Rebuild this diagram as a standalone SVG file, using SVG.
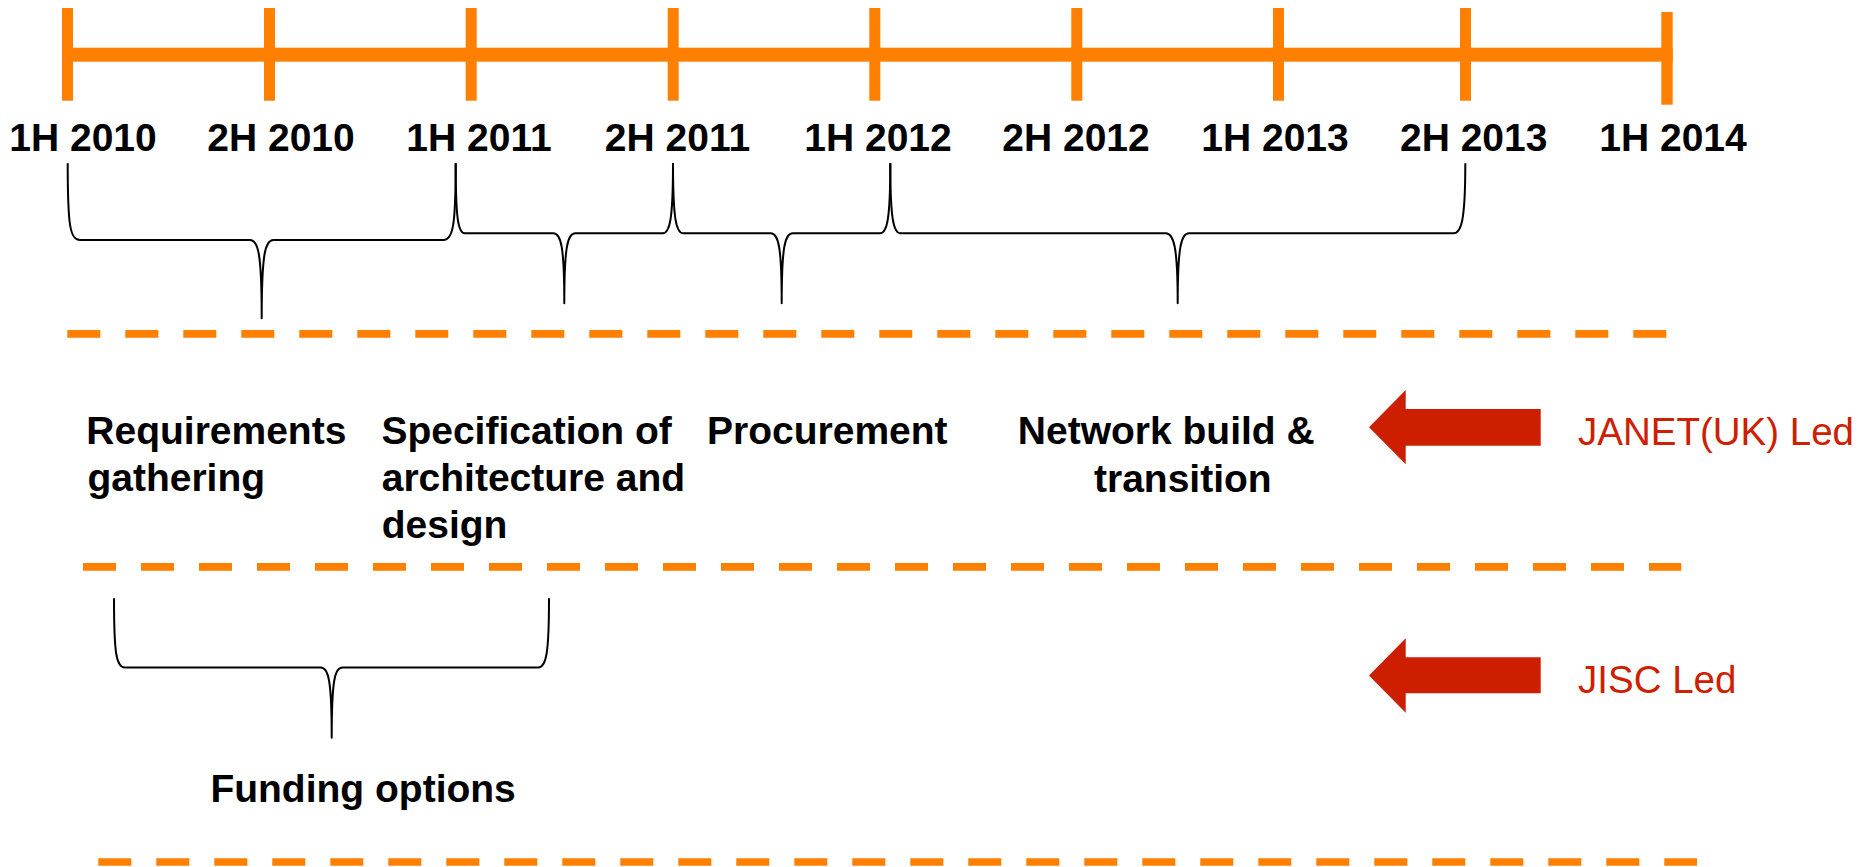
<svg xmlns="http://www.w3.org/2000/svg" width="1874" height="867" viewBox="0 0 1874 867">
<style>
  .bg { fill: #ffffff; }
  .axis { fill: #FF7F00; }
  .dash { stroke: #FF7F00; stroke-width: 7.7; stroke-dasharray: 33 25; fill: none; }
  .brace { stroke: #000000; stroke-width: 2; fill: none; stroke-linejoin: round; }
  .lbl { font-family: "Liberation Sans", Arial, sans-serif; font-weight: bold; font-size: 39px; fill: #000000; }
  .yr { text-anchor: middle; }
  .led { font-family: "Liberation Sans", Arial, sans-serif; font-size: 38.5px; fill: #CD2000; }
  .arrow { fill: #CD1F00; }
</style>
<rect class="bg" x="0" y="0" width="1874" height="867"/>

<g id="timeline">
  <rect class="axis" x="62" y="47.7" width="1610.7" height="14"/>
  <rect class="axis" x="62" y="8" width="11" height="92.7"/>
  <rect class="axis" x="264" y="8" width="11" height="92.7"/>
  <rect class="axis" x="465.7" y="8" width="11" height="92.7"/>
  <rect class="axis" x="667.7" y="8" width="11" height="92.7"/>
  <rect class="axis" x="869.3" y="8" width="11" height="92.7"/>
  <rect class="axis" x="1071.3" y="8" width="11" height="92.7"/>
  <rect class="axis" x="1273" y="8" width="11" height="92.7"/>
  <rect class="axis" x="1460" y="8" width="11" height="92.7"/>
  <rect class="axis" x="1661.3" y="12" width="11.4" height="92.7"/>
</g>

<g id="year-labels">
  <text class="lbl yr" x="83" y="150.7">1H 2010</text>
  <text class="lbl yr" x="281" y="150.7">2H 2010</text>
  <text class="lbl yr" x="479" y="150.7">1H 2011</text>
  <text class="lbl yr" x="677.5" y="150.7">2H 2011</text>
  <text class="lbl yr" x="878" y="150.7">1H 2012</text>
  <text class="lbl yr" x="1076" y="150.7">2H 2012</text>
  <text class="lbl yr" x="1275" y="150.7">1H 2013</text>
  <text class="lbl yr" x="1473.7" y="150.7">2H 2013</text>
  <text class="lbl yr" x="1673" y="150.7">1H 2014</text>
</g>

<g id="braces">
  <path id="brace-requirements" class="brace" d="M67.7 163.3 C67.7 226 70 240 80 240 L250 240 C258 240 261.7 252 261.7 318.3 C261.7 252 265.4 240 273.4 240 L443.3 240 C453 240 455.7 226 455.7 163.3"/>
  <path id="brace-specification" class="brace" d="M455.7 163.3 C455.7 218 458 233.3 465 233.3 L553.3 233.3 C561 233.3 564.3 246 564.3 303.3 C564.3 246 567.6 233.3 575.3 233.3 L662.7 233.3 C670 233.3 673 218 673 163.3"/>
  <path id="brace-procurement" class="brace" d="M673 163.3 C673 218 676 233.3 683.3 233.3 L770.7 233.3 C778.4 233.3 781.7 246 781.7 303.3 C781.7 246 785 233.3 792.7 233.3 L880 233.3 C887.3 233.3 890.3 218 890.3 163.3"/>
  <path id="brace-network" class="brace" d="M890.3 163.3 C890.3 218 893.3 233.3 900.6 233.3 L1165.7 233.3 C1173.7 233.3 1177.7 246 1177.7 303.3 C1177.7 246 1181.2 233.3 1189 233.3 L1453.3 233.3 C1461.5 233.3 1465.3 220 1465.3 163.3"/>
  <path id="brace-funding" class="brace" d="M114 598.3 C114 652 116 667.5 125 667.5 L320.7 667.5 C328.5 667.5 331.7 680 331.7 737.7 C331.7 680 334.8 667.5 342.3 667.5 L538 667.5 C546.5 667.5 549 652 549 598.3"/>
</g>

<g id="separators">
  <line class="dash" x1="67.3" y1="333.8" x2="1666.3" y2="333.8"/>
  <line class="dash" x1="83" y1="566.8" x2="1681.3" y2="566.8"/>
  <line class="dash" x1="98.3" y1="862" x2="1697" y2="862"/>
</g>

<g id="node-requirements">
  <text class="lbl" x="86.3" y="444.3">Requirements</text>
  <text class="lbl" x="87.4" y="491">gathering</text>
</g>
<g id="node-specification">
  <text class="lbl" x="381.4" y="444.3">Specification of</text>
  <text class="lbl" x="381.7" y="491">architecture and</text>
  <text class="lbl" x="381.7" y="538.3">design</text>
</g>
<g id="node-procurement">
  <text class="lbl" x="707" y="444.3">Procurement</text>
</g>
<g id="node-network">
  <text class="lbl" x="1017.8" y="444.3">Network build &amp;</text>
  <text class="lbl" x="1094" y="491.7">transition</text>
</g>
<g id="node-funding">
  <text class="lbl" x="210.4" y="802.3">Funding options</text>
</g>

<g id="node-janet">
  <polygon class="arrow" points="1369,427.3 1405.7,390 1405.7,409 1540.7,409 1540.7,445.7 1405.7,445.7 1405.7,464.3"/>
  <text class="led" x="1578" y="445">JANET(UK) Led</text>
</g>
<g id="node-jisc">
  <polygon class="arrow" points="1369,675.5 1405.7,638.3 1405.7,657.3 1540.7,657.3 1540.7,693.3 1405.7,693.3 1405.7,712.7"/>
  <text class="led" x="1578" y="693.3">JISC Led</text>
</g>
</svg>
